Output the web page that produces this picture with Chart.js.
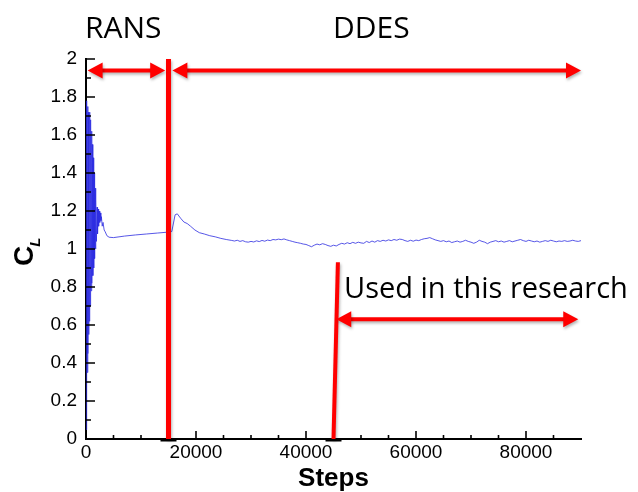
<!DOCTYPE html>
<html lang="en">
<head>
    <meta charset="UTF-8">
    <title>CL vs Steps</title>
    <script src="https://cdn.jsdelivr.net/npm/chart.js"></script>
    <style>
        body { margin: 0; background: #fff; }
        canvas { display: block; }
    </style>
</head>
<body>
<canvas id="cl-graph" width="638" height="492"></canvas>

<script>
    // Iteration steps and lift coefficient
    const steps = [
        0, 60, 120, 180, 240, 300, 360, 420, 480, 540, 600, 680, 760, 840, 920, 1000,
        1080, 1160, 1240, 1320, 1400, 1480, 1560, 1640, 1720, 1800, 1900, 2000, 2100, 2200,
        2300, 2400, 2500, 2600, 2700, 2800, 2950, 3100, 3300, 3500, 3800, 4200,
        5000, 7000, 9000, 11000, 13000, 15000, 15600, 16200, 16600, 17200, 17800, 18400,
        19000, 19800, 20600, 21500, 22500, 23500, 24500, 25500, 26500,
        27000, 27500, 28000, 28500, 29000, 29500, 30000, 30500, 31000, 31500, 32000, 32500,
        33000, 33500, 34000, 34500, 35000, 35500, 36000, 36500, 37000, 37500, 38000, 38500,
        39000, 39500, 40000, 40500, 41000, 41500, 42000, 42500, 43000, 43500, 44000, 44500,
        45000, 45500, 46000, 46500, 47000, 47500, 48000, 48500, 49000, 49500, 50000, 50500,
        51000, 51500, 52000, 52500, 53000, 53500, 54000, 54500, 55000, 55500, 56000, 56500,
        57000, 57500, 58000, 58500, 59000, 59500, 60000, 60500, 61000, 61500, 62000, 62500,
        63000, 63500, 64000, 64500, 65000, 65500, 66000, 66500, 67000, 67500, 68000, 68500,
        69000, 69500, 70000, 70500, 71000, 71500, 72000, 72500, 73000, 73500, 74000, 74500,
        75000, 75500, 76000, 76500, 77000, 77500, 78000, 78500, 79000, 79500, 80000, 80500,
        81000, 81500, 82000, 82500, 83000, 83500, 84000, 84500, 85000, 85500, 86000, 86500,
        87000, 87500, 88000, 88500, 89000, 89500, 90000
    ];
    const cl = [
        0.05, 1.70, 0.20, 1.78, 0.35, 1.75, 0.45, 1.72, 0.55, 1.70, 0.62, 1.72, 0.70, 1.68, 0.78, 1.62,
        0.82, 1.55, 0.86, 1.48, 0.90, 1.40, 0.95, 1.32, 1.00, 1.26, 1.04, 1.22, 1.08, 1.21,
        1.12, 1.20, 1.14, 1.19, 1.15, 1.17, 1.12, 1.14, 1.10, 1.09, 1.07, 1.062,
        1.060, 1.068, 1.074, 1.079, 1.084, 1.089, 1.092, 1.180, 1.185, 1.162, 1.142, 1.134,
        1.120, 1.100, 1.086, 1.079, 1.070, 1.064, 1.056, 1.050, 1.045,
        1.042, 1.046, 1.040, 1.044, 1.038, 1.036, 1.040, 1.037, 1.043, 1.039, 1.045, 1.041,
        1.047, 1.044, 1.050, 1.048, 1.052, 1.049, 1.053, 1.048, 1.044, 1.040, 1.036, 1.033,
        1.030, 1.026, 1.024, 1.018, 1.012, 1.020, 1.026, 1.022, 1.028, 1.024, 1.018, 1.014,
        1.020, 1.016, 1.024, 1.030, 1.026, 1.033, 1.028, 1.035, 1.030, 1.036, 1.032, 1.030,
        1.040, 1.034, 1.042, 1.036, 1.044, 1.040, 1.046, 1.042, 1.048, 1.044, 1.050, 1.046,
        1.052, 1.050, 1.044, 1.040, 1.046, 1.041, 1.047, 1.044, 1.050, 1.054, 1.056, 1.060,
        1.054, 1.048, 1.044, 1.040, 1.044, 1.038, 1.042, 1.034, 1.038, 1.042, 1.036, 1.040,
        1.046, 1.040, 1.036, 1.030, 1.036, 1.046, 1.040, 1.036, 1.028, 1.036, 1.040, 1.044,
        1.038, 1.042, 1.036, 1.040, 1.044, 1.038, 1.042, 1.046, 1.050, 1.044, 1.040, 1.046,
        1.042, 1.038, 1.042, 1.036, 1.040, 1.044, 1.040, 1.046, 1.042, 1.038, 1.042, 1.040,
        1.044, 1.040, 1.042, 1.046, 1.042, 1.040, 1.044
    ];

    // Axis ticks
    const xTicks = [0, 20000, 40000, 60000, 80000];
    const xMinorTicks = [5000, 10000, 15000, 25000, 30000, 35000, 45000, 50000, 55000,
                         65000, 70000, 75000, 85000];
    const yTicks = [0, 0.2, 0.4, 0.6, 0.8, 1, 1.2, 1.4, 1.6, 1.8, 2];
    const yMinorTicks = [0.1, 0.3, 0.5, 0.7, 0.9, 1.1, 1.3, 1.5, 1.7, 1.9];

    // Annotations (in data units)
    const ransEnd = 15000;                  // RANS -> DDES switch
    const usedStart = [45000, 45800];       // bottom / top step of the "used" marker line
    const usedTop = 0.93;
    const phaseArrowY = 1.94;
    const ransArrow = [300, 14400];
    const ddesArrow = [15700, 90000];
    const usedArrowY = 0.63;
    const usedArrow = [45500, 89500];

    const tickFont = { family: "'Liberation Sans', Arial, sans-serif", size: 19 };

    function drawArrow(ctx, x1, x2, y) {
        const head = 15, half = 8;
        ctx.beginPath();
        ctx.moveTo(x1 + head - 2, y);
        ctx.lineTo(x2 - head + 2, y);
        ctx.stroke();
        ctx.beginPath();
        ctx.moveTo(x1, y);
        ctx.lineTo(x1 + head, y - half);
        ctx.lineTo(x1 + head, y + half);
        ctx.closePath();
        ctx.fill();
        ctx.beginPath();
        ctx.moveTo(x2, y);
        ctx.lineTo(x2 - head, y - half);
        ctx.lineTo(x2 - head, y + half);
        ctx.closePath();
        ctx.fill();
    }

    const overlay = {
        id: 'overlay',
        afterDraw(chart) {
            const ctx = chart.ctx;
            const xs = chart.scales.x, ys = chart.scales.y;
            const x0 = xs.getPixelForValue(0), y0 = ys.getPixelForValue(0);

            // inward ticks
            ctx.save();
            ctx.strokeStyle = '#000';
            ctx.lineWidth = 1.6;
            ctx.beginPath();
            xTicks.forEach(v => { const p = xs.getPixelForValue(v); ctx.moveTo(p, y0); ctx.lineTo(p, y0 - 8); });
            xMinorTicks.forEach(v => { const p = xs.getPixelForValue(v); ctx.moveTo(p, y0); ctx.lineTo(p, y0 - 4); });
            yTicks.forEach(v => { const p = ys.getPixelForValue(v); ctx.moveTo(x0, p); ctx.lineTo(x0 + 9, p); });
            yMinorTicks.forEach(v => { const p = ys.getPixelForValue(v); ctx.moveTo(x0, p); ctx.lineTo(x0 + 5, p); });
            ctx.stroke();

            // small dark caps under the red lines
            ctx.lineWidth = 3;
            ctx.beginPath();
            [ransEnd, usedStart[0]].forEach(v => {
                const p = xs.getPixelForValue(v);
                ctx.moveTo(p - 8, y0 + 1); ctx.lineTo(p + 8, y0 + 1);
            });
            ctx.stroke();
            ctx.restore();

            // red markers
            ctx.save();
            ctx.strokeStyle = '#ff0000';
            ctx.fillStyle = '#ff0000';
            ctx.shadowColor = 'rgba(0,0,0,0.3)';
            ctx.shadowBlur = 3;
            ctx.shadowOffsetX = 1;
            ctx.shadowOffsetY = 2;

            ctx.lineWidth = 5;
            ctx.beginPath();
            ctx.moveTo(xs.getPixelForValue(ransEnd), ys.getPixelForValue(2));
            ctx.lineTo(xs.getPixelForValue(ransEnd), y0);
            ctx.stroke();

            ctx.lineWidth = 4;
            ctx.beginPath();
            ctx.moveTo(xs.getPixelForValue(usedStart[1]), ys.getPixelForValue(usedTop));
            ctx.lineTo(xs.getPixelForValue(usedStart[0]), y0);
            ctx.stroke();

            ctx.lineWidth = 4;
            drawArrow(ctx, xs.getPixelForValue(ransArrow[0]), xs.getPixelForValue(ransArrow[1]), ys.getPixelForValue(phaseArrowY));
            drawArrow(ctx, xs.getPixelForValue(ddesArrow[0]), xs.getPixelForValue(ddesArrow[1]), ys.getPixelForValue(phaseArrowY));
            drawArrow(ctx, xs.getPixelForValue(usedArrow[0]), xs.getPixelForValue(usedArrow[1]), ys.getPixelForValue(usedArrowY));
            ctx.restore();

            // labels
            ctx.save();
            ctx.fillStyle = '#000';
            ctx.textBaseline = 'alphabetic';
            ctx.font = "30px 'Open Sans', sans-serif";
            ctx.fillText('RANS', 85, 38);
            ctx.fillText('DDES', 333, 38);
            ctx.font = "29px 'Open Sans', sans-serif";
            ctx.fillText('Used in this research', 344, 298);

            // y axis title C_L
            ctx.translate(33, 266);
            ctx.rotate(-Math.PI / 2);
            ctx.font = "bold 28px 'Liberation Sans', Arial, sans-serif";
            ctx.fillText('C', 0, 0);
            const w = ctx.measureText('C').width;
            ctx.font = "bold italic 15px 'Liberation Sans', Arial, sans-serif";
            ctx.fillText('L', w - 1, 7);
            ctx.restore();
        }
    };

    const ctx = document.getElementById('cl-graph').getContext('2d');
    new Chart(ctx, {
        type: 'line',
        data: {
            datasets: [{
                data: steps.map((s, i) => ({ x: s, y: cl[i] })),
                borderColor: 'rgba(45, 45, 225, 0.8)',
                borderWidth: 1,
                pointRadius: 0,
                tension: 0
            }]
        },
        options: {
            responsive: false,
            animation: false,
            layout: { padding: { top: 59, right: 57, left: 0, bottom: 0 } },
            plugins: { legend: { display: false }, tooltip: { enabled: false } },
            scales: {
                x: {
                    type: 'linear',
                    min: 0,
                    max: 90000,
                    afterBuildTicks: s => { s.ticks = xTicks.map(v => ({ value: v })); },
                    afterFit: s => { s.height = 53; },
                    ticks: {
                        font: tickFont,
                        color: '#000',
                        padding: 2,
                        maxRotation: 0,
                        callback: v => String(v)
                    },
                    grid: { drawOnChartArea: false, drawTicks: false },
                    border: { color: '#000', width: 2 },
                    title: {
                        display: true,
                        text: 'Steps',
                        color: '#000',
                        font: { family: "'Liberation Sans', Arial, sans-serif", size: 26, weight: 'bold', lineHeight: 1 },
                        padding: 0
                    }
                },
                y: {
                    min: 0,
                    max: 2,
                    afterBuildTicks: s => { s.ticks = yTicks.map(v => ({ value: v })); },
                    afterFit: s => { s.width = 86; },
                    ticks: {
                        font: tickFont,
                        color: '#000',
                        padding: 9,
                        callback: v => String(Math.round(v * 10) / 10)
                    },
                    grid: { drawOnChartArea: false, drawTicks: false },
                    border: { color: '#000', width: 2 }
                }
            }
        },
        plugins: [overlay]
    });
</script>
</body>
</html>
